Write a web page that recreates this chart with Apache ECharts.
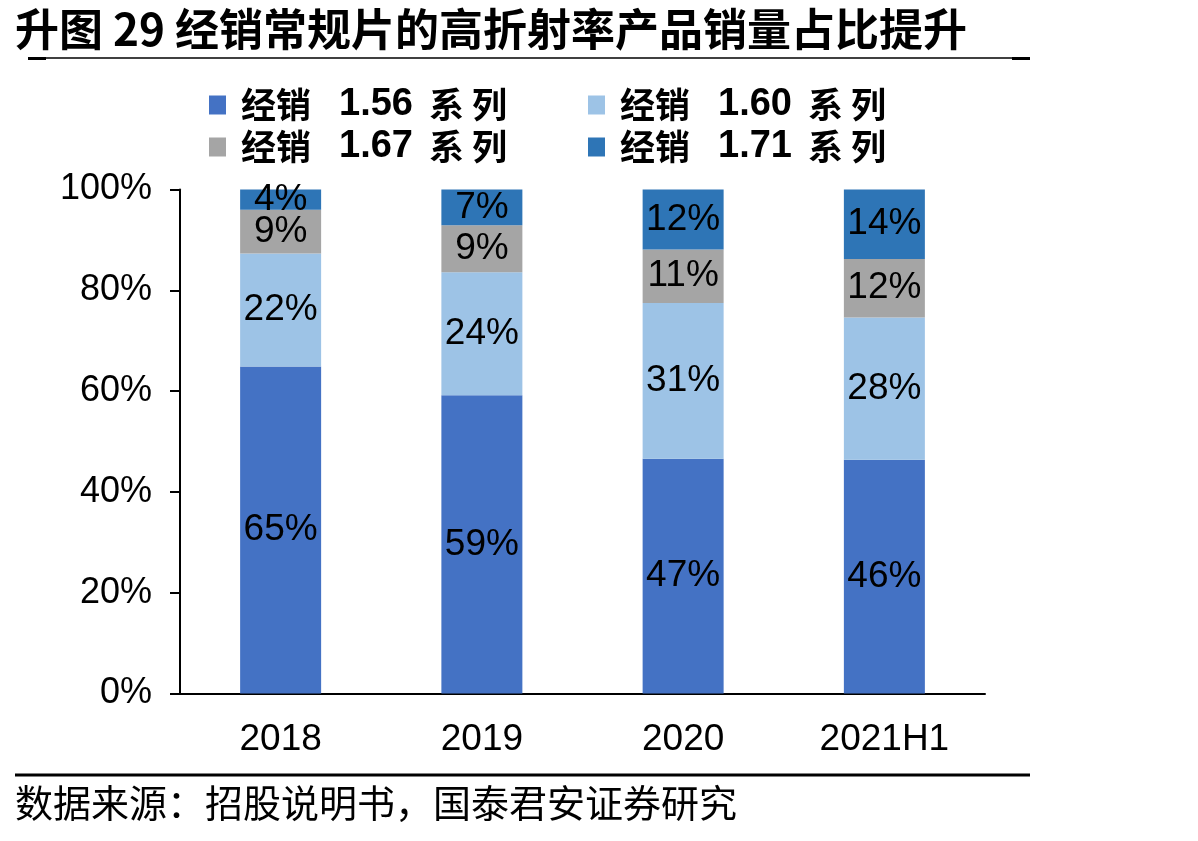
<!DOCTYPE html>
<html>
<head>
<meta charset="utf-8">
<script src="https://cdn.jsdelivr.net/npm/echarts@6/dist/echarts.min.js"></script>
<style>html,body{margin:0;padding:0;background:#fff}#c{width:1198px;height:841px}</style>
</head>
<body>
<div id="c"></div>
<script>
const categories = ['2018', '2019', '2020', '2021H1'];
const seriesNames = ['经销 1.56 系列', '经销 1.60 系列', '经销 1.67 系列', '经销 1.71 系列'];
const s156 = [64.9, 59.2, 46.6, 46.4];
const s160 = [22.4, 24.4, 30.9, 28.2];
const s167 = [8.7, 9.3, 10.6, 11.6];
const s171 = [4.0, 7.1, 11.9, 13.8];
const yTicks = [0, 20, 40, 60, 80, 100];
const titleText = '升图 29 经销常规片的高折射率产品销量占比提升';
const sourceText = '数据来源：招股说明书，国泰君安证券研究';

const colors = ['#4472C4', '#9DC3E6', '#A5A5A5', '#2E75B6'];
const values = [s156, s160, s167, s171];
const CJK = '"Noto Sans CJK SC", sans-serif';
const LAT = '"Liberation Sans", Arial, sans-serif';

const chart = echarts.init(document.getElementById('c'));

function legendFor(i, left, top) {
  return {
    data: [seriesNames[i]],
    left: left, top: top,
    itemWidth: 17, itemHeight: 19, itemGap: 0,
    icon: 'rect',
    selectedMode: false,
    formatter: function (name) {
      const p = name.split(' ');
      return '{c|' + p[0] + '}{s1| }{n|' + p[1] + '}{s2| }{c|' + p[2][0] + '}{s3| }{c|' + p[2][1] + '}';
    },
    textStyle: {
      padding: [0, 0, 0, 10],
      rich: {
        c: { fontFamily: CJK, fontSize: 35, fontWeight: 'bold', color: '#000', lineHeight: 40 },
        n: { fontFamily: LAT, fontSize: 38, fontWeight: 'bold', color: '#000', lineHeight: 40 },
        s1: { width: 28, fontSize: 10 },
        s2: { width: 16, fontSize: 10 },
        s3: { width: 8, fontSize: 10 }
      }
    }
  };
}

const option = {
  backgroundColor: '#fff',
  animation: false,
  title: {
    text: titleText,
    left: 10, top: 2,
    textStyle: { fontFamily: CJK, fontSize: 44, fontWeight: 'bold', color: '#000' }
  },
  legend: [
    legendFor(0, 204, 81),
    legendFor(1, 583, 81),
    legendFor(2, 204, 123),
    legendFor(3, 583, 123)
  ],
  grid: { left: 180, right: 213, top: 189.5, bottom: 147.5, containLabel: false },
  xAxis: {
    type: 'category',
    data: categories,
    axisLine: { show: true, lineStyle: { color: '#000', width: 2 } },
    axisTick: { show: false },
    axisLabel: { color: '#000', fontFamily: LAT, fontSize: 37, margin: 28 }
  },
  yAxis: {
    type: 'value',
    min: yTicks[0], max: yTicks[yTicks.length - 1], interval: 20,
    splitLine: { show: false },
    axisLine: { show: true, lineStyle: { color: '#000', width: 2 } },
    axisTick: { show: true, length: 10, lineStyle: { color: '#000', width: 2 } },
    axisLabel: { color: '#000', fontFamily: LAT, fontSize: 36, margin: 28, formatter: '{value}%' }
  },
  series: values.map(function (v, i) {
    return {
      name: seriesNames[i],
      type: 'bar',
      stack: 'total',
      barWidth: 81,
      data: v,
      itemStyle: { color: colors[i] },
      label: {
        show: true, position: 'inside',
        color: '#000', fontFamily: LAT, fontSize: 37,
        formatter: function (p) { return Math.round(p.value) + '%'; }
      }
    };
  }),
  graphic: [
    { type: 'line', shape: { x1: 28, y1: 58, x2: 1030, y2: 58 }, style: { stroke: '#000', lineWidth: 1.5 } },
    { type: 'line', shape: { x1: 28, y1: 58.5, x2: 46, y2: 58.5 }, style: { stroke: '#000', lineWidth: 3 } },
    { type: 'line', shape: { x1: 1012, y1: 58.5, x2: 1030, y2: 58.5 }, style: { stroke: '#000', lineWidth: 3 } },
    { type: 'line', shape: { x1: 15, y1: 775, x2: 1030, y2: 775 }, style: { stroke: '#000', lineWidth: 3 } },
    { type: 'text', left: 15, top: 784, style: { text: sourceText, font: '38px "Noto Sans CJK SC", sans-serif', fill: '#000' } }
  ]
};
chart.setOption(option);
</script>
</body>
</html>
